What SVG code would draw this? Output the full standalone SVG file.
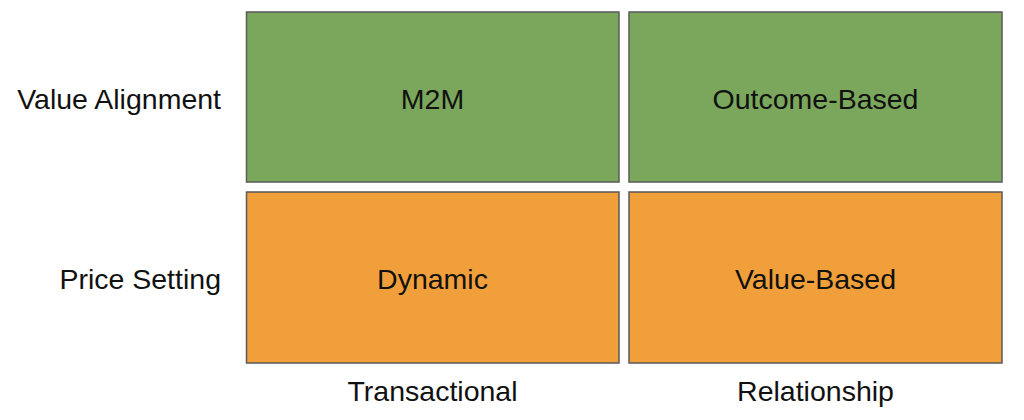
<svg xmlns="http://www.w3.org/2000/svg" width="1024" height="420" viewBox="0 0 1024 420">
<style>
.box{stroke:#5a5a5a;stroke-width:1.5}
.g{fill:#7ba75c}
.o{fill:#f19f3a}
text{font-family:"Liberation Sans",Arial,sans-serif;font-size:28.5px;fill:#111}
.c{text-anchor:middle;dominant-baseline:central}
.r{text-anchor:end;dominant-baseline:central}
</style>
<rect width="1024" height="420" fill="#fff"/>
<g id="m2m"><rect class="box g" x="246.5" y="12" width="372.5" height="170"/><text class="c" x="432.5" y="99">M2M</text></g>
<g id="outcome"><rect class="box g" x="629" y="12" width="373" height="170"/><text class="c" x="815.5" y="99">Outcome-Based</text></g>
<g id="dynamic"><rect class="box o" x="246.5" y="192" width="372.5" height="171"/><text class="c" x="432.5" y="279">Dynamic</text></g>
<g id="value"><rect class="box o" x="629" y="192" width="373" height="171"/><text class="c" x="815.5" y="279">Value-Based</text></g>
<g id="row-labels"><text class="r" x="221" y="99">Value Alignment</text><text class="r" x="221" y="279">Price Setting</text></g>
<g id="col-labels"><text class="c" x="432.5" y="391">Transactional</text><text class="c" x="815.5" y="391">Relationship</text></g>
<g id="connectors"/>
</svg>
